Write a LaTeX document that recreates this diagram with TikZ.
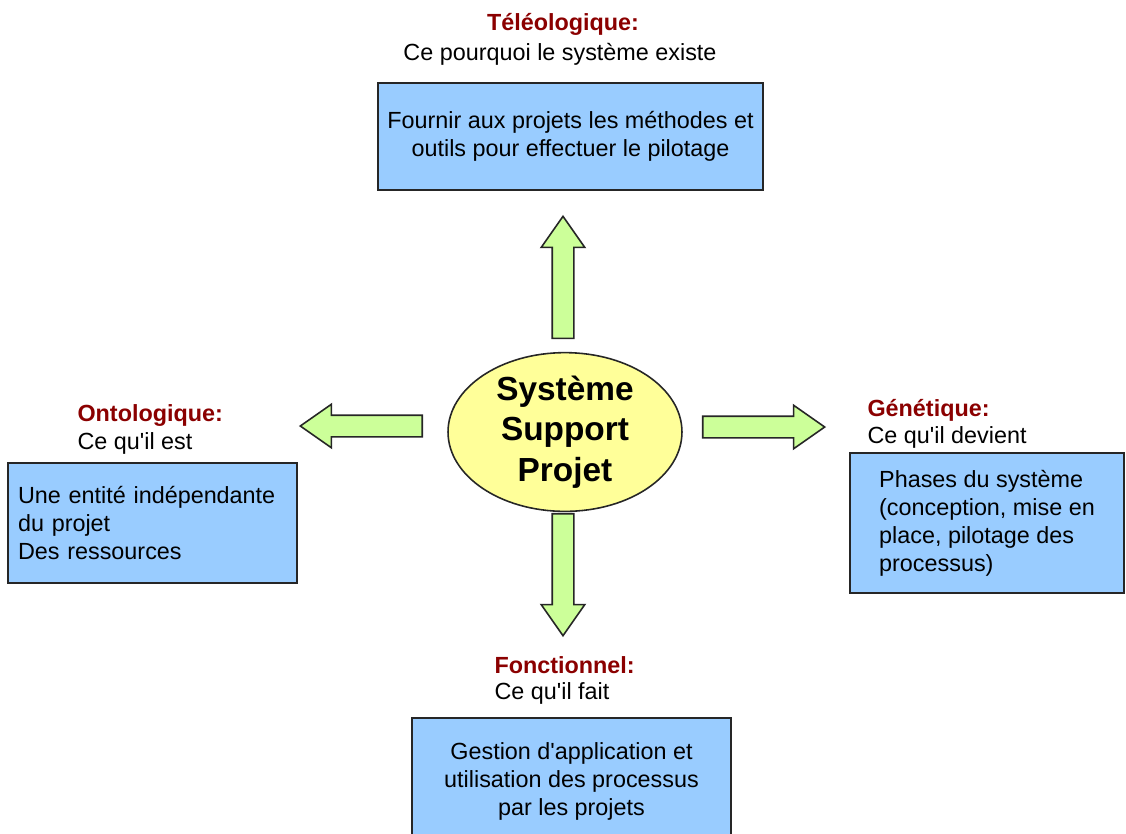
\documentclass[tikz,border=0pt]{standalone}
\usepackage{fontspec}
\setmainfont{Liberation Sans}[Ligatures=TeXOff]
\usetikzlibrary{shapes.geometric,shapes.arrows,positioning}

\definecolor{boxblue}{HTML}{99CCFF}
\definecolor{arrowgreen}{HTML}{CCFF99}
\definecolor{ellyellow}{HTML}{FFFF99}
\definecolor{titlered}{HTML}{8B0000}
\tikzstyle{bloc} = [draw = black!85, line width = 0.8pt, fill = boxblue, inner sep = 0pt, font = \fontsize{13.3}{15.9}\selectfont]

\begin{document}
\begin{tikzpicture}[
            x = 0.02cm, y = -0.02cm, % one unit = one pixel
            semithick % line style
        ]

        \tikzstyle{fleche}=[
            single arrow,
            draw = black!85,
            line width = 0.9pt,
            fill = arrowgreen,
            inner xsep = 0pt,
            inner ysep = 0.2cm,
            minimum height = 2.44cm,
            single arrow head extend = 0.22cm,
            single arrow tip angle = 70
        ]
        \tikzstyle{titre}=[text = titlered, inner sep = 0pt, font = \bfseries\fontsize{13.3}{15}\selectfont]
        \tikzstyle{soustitre}=[inner sep = 0pt, font = \fontsize{13.3}{15}\selectfont]

        \fill[white] (0,0) rectangle (1126,833);
        \useasboundingbox (0,0) rectangle (1126,833);
        \clip (0,0) rectangle (1126,833);

        % centre
        \node[ellipse, draw = black!85, line width = 0.9pt, fill = ellyellow,
              minimum width = 4.68cm, minimum height = 2.8cm, inner sep = 0pt,
              align = center, font = \bfseries\fontsize{19}{23}\selectfont]
              (ssp) at (565,432) {Système\\Support\\Projet};

        % teleologique
        \node[titre] (teleo) at (563,24) {Téléologique:};
        \node[soustitre] (teleo-sub) at (560,54) {Ce pourquoi le système existe};
        \node[bloc, minimum width = 7.7cm, minimum height = 2.14cm, align = center]
              (teleo-box) at (570.5,136.5) {Fournir aux projets les méthodes et\\outils pour effectuer le pilotage};

        % ontologique
        \node[titre, anchor = west] (onto) at (77,415) {Ontologique:};
        \node[soustitre, anchor = west] (onto-sub) at (77,443) {Ce qu'il est};
        \node[bloc, minimum width = 5.78cm, minimum height = 2.4cm, inner xsep = 0.2cm,
              text width = 5.38cm, align = left]
              (onto-box) at (152.5,523) {Une entité indépendante\\du projet\\Des ressources};

        % genetique
        \node[titre, anchor = west] (gene) at (867,410) {Génétique:};
        \node[soustitre, anchor = west] (gene-sub) at (867,437) {Ce qu'il devient};
        \node[bloc, minimum width = 5.48cm, minimum height = 2.8cm, align = left]
              (gene-box) at (987,523) {Phases du système\\(conception, mise en\\place, pilotage des\\processus)};

        % fonctionnel
        \node[titre, anchor = west] (fonc) at (494,665) {Fonctionnel:};
        \node[soustitre, anchor = west] (fonc-sub) at (494,693) {Ce qu'il fait};
        \node[bloc, minimum width = 6.38cm, minimum height = 2.54cm, align = center]
              (fonc-box) at (571.5,781.5) {Gestion d'application et\\utilisation des processus\\par les projets};

        % fleches
        \node[fleche, rotate = 90] (haut) at (563,285) {};
        \node[fleche, rotate = 180] (gauche) at (369,426) {};
        \node[fleche] (droite) at (756,427) {};
        \node[fleche, rotate = -90] (bas) at (563,567) {};

    \end{tikzpicture}
\end{document}
